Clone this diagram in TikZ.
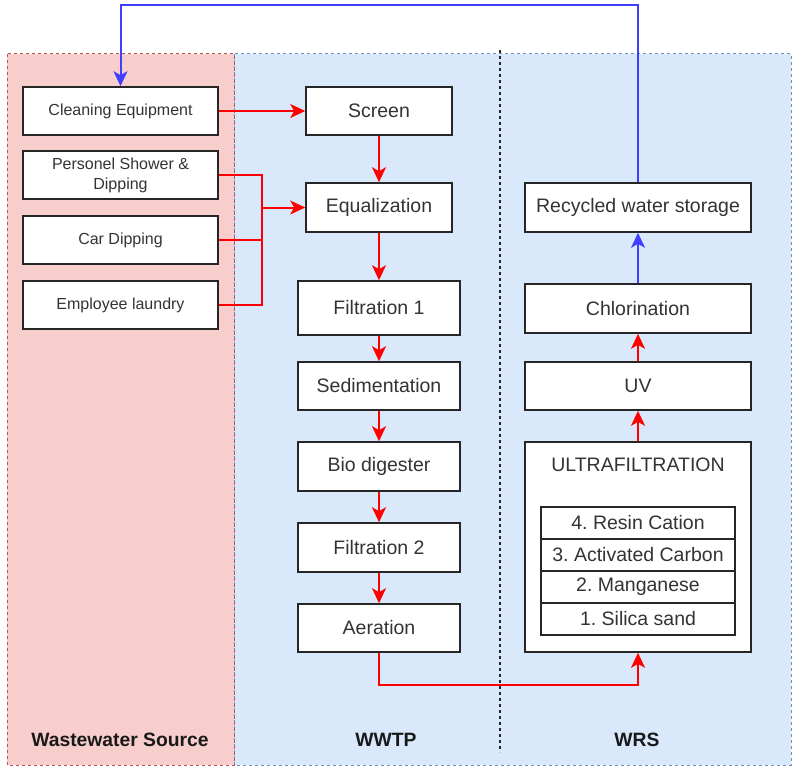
\documentclass[tikz,border=0pt]{standalone}
\usepackage{fontspec}
\setmainfont{Liberation Sans}
\usetikzlibrary{arrows.meta}
\definecolor{pinkfill}{HTML}{F8CECC}
\definecolor{pinkline}{HTML}{B85450}
\definecolor{bluefill}{HTML}{DAE8FC}
\definecolor{blueline}{HTML}{6C8EBF}
\definecolor{txt}{HTML}{333333}
\definecolor{redarr}{HTML}{FF0000}
\definecolor{bluearr}{HTML}{3F3FFF}
\tikzset{
  box/.style={draw=black!85, fill=white, line width=1.6pt, rectangle, inner sep=0pt, align=center, text=txt},
  srcbox/.style={box, minimum width=195pt, minimum height=48pt, font=\fontsize{16}{20}\selectfont},
  mainbox/.style={box, font=\fontsize{19.5}{22}\selectfont},
  layer/.style={box, outer sep=0pt, minimum width=194pt, minimum height=32pt, font=\fontsize{19.5}{22}\selectfont},
  tip/.style={-{Stealth[length=15pt,width=14pt,inset=4pt]}},
  rarr/.style={draw=redarr, line width=2pt, tip},
  barr/.style={draw=bluearr, line width=2pt, tip},
  rline/.style={draw=redarr, line width=2pt},
  zone/.style={font=\bfseries\fontsize{19.3}{22}\selectfont, text=black!90}
}
\begin{document}
\frenchspacing
\begin{tikzpicture}[x=1pt,y=-1pt]
\useasboundingbox (0,0) rectangle (792,768);
% regions
\draw[fill=bluefill, draw=blueline, dashed, line width=1pt] (234,54) rectangle (791,765);
\draw[fill=pinkfill, draw=pinkline, dashed, line width=1pt] (7,54) rectangle (234,765);
\draw[black!85, line width=1.6pt, dash pattern=on 3pt off 3pt] (500,50) -- (500,752);
% zone labels
\node[zone] (lws) at (120,740) {Wastewater Source};
\node[zone] (lwwtp) at (386,740) {WWTP};
\node[zone] (lwrs) at (637,740) {WRS};
% source boxes
\node[srcbox] (clean) at (120.5,111) {Cleaning Equipment};
\node[srcbox] (shower) at (120.5,175) {Personel Shower \&\\Dipping};
\node[srcbox] (car) at (120.5,240) {Car Dipping};
\node[srcbox] (laundry) at (120.5,305) {Employee laundry};
% WWTP
\node[mainbox, minimum width=146pt, minimum height=48pt] (screen) at (379,111) {Screen};
\node[mainbox, minimum width=146pt, minimum height=49pt] (equal) at (379,207.5) {Equalization};
\node[mainbox, minimum width=162pt, minimum height=54pt] (filt1) at (379,308) {Filtration 1};
\node[mainbox, minimum width=162pt, minimum height=48pt] (sed) at (379,386) {Sedimentation};
\node[mainbox, minimum width=162pt, minimum height=49pt] (bio) at (379,466.5) {Bio digester};
\node[mainbox, minimum width=162pt, minimum height=49pt] (filt2) at (379,547.5) {Filtration 2};
\node[mainbox, minimum width=162pt, minimum height=48pt] (aer) at (379,628) {Aeration};
% WRS
\node[mainbox, minimum width=226pt, minimum height=49pt] (rec) at (638,207.5) {Recycled water storage};
\node[mainbox, minimum width=226pt, minimum height=49pt] (chl) at (638,308.5) {Chlorination};
\node[mainbox, minimum width=226pt, minimum height=48pt] (uv) at (638,386) {UV};
\node[mainbox, minimum width=226pt, minimum height=210pt] (uf) at (638,547) {};
\node[font=\fontsize{19.5}{22}\selectfont, text=txt] (uft) at (638,465) {ULTRAFILTRATION};
\node[layer] (l4) at (638,523) {4. Resin Cation};
\node[layer] (l3) at (638,555) {3. Activated Carbon};
\node[layer] (l2) at (638,587) {2. Manganese};
\node[layer] (l1) at (638,619) {1. Silica sand};
\draw[draw=black!85, line width=1.6pt] (l4.north west) rectangle (l1.south east);
% connectors
\coordinate (junc) at (262,207.5);
\coordinate (bend) at (500,685);
\coordinate (top) at (400,5);
\draw[rarr] (clean.east) -- (screen.west);
\draw[rarr] (screen.south) -- (equal.north);
\draw[rline] (shower.east) -| (junc);
\draw[rline] (car.east) -| (junc);
\draw[rline] (laundry.east) -| (junc);
\draw[rarr] (junc) -- (equal.west);
\draw[rarr] (equal.south) -- (filt1.north);
\draw[rarr] (filt1.south) -- (sed.north);
\draw[rarr] (sed.south) -- (bio.north);
\draw[rarr] (bio.south) -- (filt2.north);
\draw[rarr] (filt2.south) -- (aer.north);
\draw[rarr] (aer.south) |- (bend) -| (uf.south);
\draw[rarr] (uf.north) -- (uv.south);
\draw[rarr] (uv.north) -- (chl.south);
\draw[barr] (chl.north) -- (rec.south);
\draw[barr] (rec.north) |- (top) -| (clean.north);
\end{tikzpicture}
\end{document}
